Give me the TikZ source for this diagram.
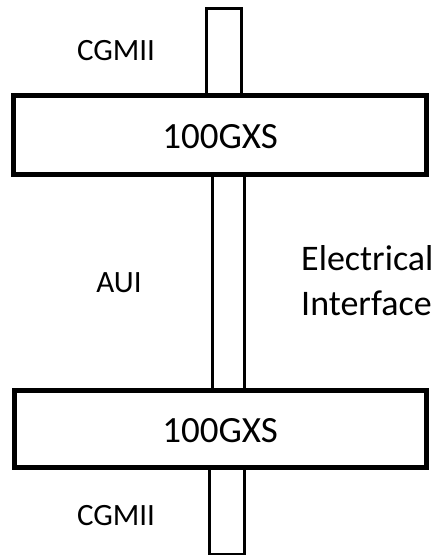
\documentclass[tikz,border=0pt]{standalone}
\usepackage{fontspec}
\setmainfont{Carlito}
\begin{document}
\begin{tikzpicture}[x=1pt,y=-1pt,
  bar/.style={draw,line width=3pt,fill=white,inner sep=0pt},
  blk/.style={draw,line width=5pt,fill=white,inner sep=0pt,font=\fontsize{37}{44}\selectfont},
  lbl/.style={inner sep=0pt,font=\fontsize{31}{37}\selectfont},
  big/.style={inner sep=0pt,font=\fontsize{36}{45}\selectfont,align=left}]
\useasboundingbox (0,0) rectangle (441,555);
% bars (drawn first, boxes overlap them)
\node[bar,minimum width=35pt,minimum height=92pt] (tbar) at (223.5,54) {};
\node[bar,minimum width=32pt,minimum height=216pt] (mbar) at (228,282) {};
\node[bar,minimum width=35pt,minimum height=88pt] (bbar) at (226.5,510) {};
% boxes
\node[blk,minimum width=413pt,minimum height=79pt] (top) at (219.5,134.5) {};
\node[blk,minimum width=412pt,minimum height=77pt] (bot) at (220,428.5) {};
\node[blk,draw=none,fill=none,anchor=base] (toptxt) at (220,148) {100GXS};
\node[blk,draw=none,fill=none,anchor=base] (bottxt) at (220,442) {100GXS};
% labels
\node[lbl,anchor=base] (cg1) at (116,60) {CGMII};
\node[lbl,anchor=base] (aui) at (119,292) {AUI};
\node[lbl,anchor=base] (cg2) at (116,525) {CGMII};
\node[big,anchor=base west] (el1) at (301,270) {Electrical};
\node[big,anchor=base west] (el2) at (301,315) {Interface};
\end{tikzpicture}
\end{document}
